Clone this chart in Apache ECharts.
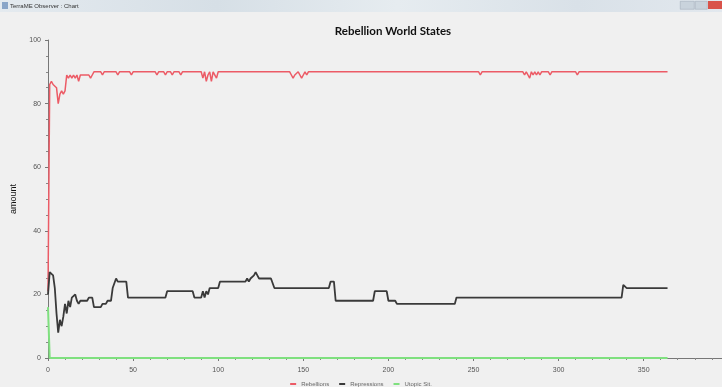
<!DOCTYPE html>
<html>
<head>
<meta charset="utf-8">
<script src="https://cdn.jsdelivr.net/npm/echarts@6/dist/echarts.min.js"></script>
<style>
html,body{margin:0;padding:0;background:#f0f0f0;overflow:hidden;}
#chart{width:722px;height:387px;}
</style>
</head>
<body>
<div id="chart"></div>
<script>
var titleText = "Rebellion World States";
var windowTitle = "TerraME Observer : Chart";
var yAxisName = "amount";
var seriesNames = ["Rebellions", "Repressions", "Utopic Sit."];

// [time, value] change points
var rebellions = [[0,21],[1,86],[2,87],[3,86],[4,86],[5,85],[6,80],[7,83],[8,84],[9,83],[10,84],[11,89],[12,88],[13,89],[14,88],[15,89],[16,88],[17,89],[18,87],[19,89],[24,89],[25,88],[26,89],[27,90],[31,90],[32,89],[33,90],[40,90],[41,89],[42,90],[48,90],[49,89],[50,90],[63,90],[64,89],[65,90],[68,90],[69,89],[70,90],[72,90],[73,89],[74,90],[77,90],[78,89],[79,90],[90,90],[91,88],[92,90],[93,87],[94,89],[95,90],[96,87],[97,90],[98,90],[99,88],[100,90],[142,90],[143,89],[144,88],[145,89],[146,89],[147,90],[148,89],[149,88],[150,89],[151,90],[152,89],[153,90],[253,90],[254,89],[255,90],[279,90],[280,89],[281,90],[282,89],[283,88],[284,90],[285,89],[286,90],[287,89],[288,90],[289,89],[290,90],[294,90],[295,89],[296,90],[310,90],[311,89],[312,90],[364,90]];
var repressions = [[0,20],[1,27],[2,27],[3,26],[4,22],[5,14],[6,8],[7,12],[8,10],[9,13],[10,17],[11,14],[12,18],[13,16],[14,19],[15,19],[16,20],[17,18],[18,17],[19,18],[23,18],[24,19],[26,19],[27,16],[31,16],[32,17],[34,17],[35,18],[37,18],[38,22],[39,22],[40,25],[41,24],[46,24],[47,19],[69,19],[70,21],[85,21],[86,19],[90,19],[91,21],[92,19],[93,21],[94,20],[95,22],[100,22],[101,24],[116,24],[117,25],[118,24],[119,25],[121,26],[122,27],[123,26],[124,25],[131,25],[133,22],[165,22],[166,24],[168,24],[169,18],[191,18],[192,21],[199,21],[200,18],[204,18],[205,17],[239,17],[240,19],[337,19],[338,23],[340,22],[364,22]];
var utopic = [[0,16],[1,0],[364,0]];

var chart = echarts.init(document.getElementById('chart'), null, {renderer:'canvas'});
var tickFont = {fontSize:7, color:'#555', fontFamily:'Liberation Sans'};
chart.setOption({
  backgroundColor:'#f0f0f0',
  animation:false,
  title:{text:titleText, left:388, top:20, textAlign:'center',
    textStyle:{fontSize:11.5, fontWeight:'bold', color:'#111', fontFamily:'Lato'}},
  legend:{top:376, left:'center', itemWidth:6, itemHeight:2, itemGap:10,
    icon:'rect',
    textStyle:{fontSize:6, color:'#666', fontFamily:'Liberation Sans'},
    data:seriesNames},
  grid:{left:48, right:0, top:40, height:318, containLabel:false},
  xAxis:{type:'value', min:0, max:396, interval:50, offset:5,
    axisLine:{lineStyle:{color:'#777', width:1}},
    axisTick:{length:3, lineStyle:{color:'#777'}},
    minorTick:{show:true, splitNumber:5, length:2, lineStyle:{color:'#888'}},
    axisLabel:Object.assign({margin:4, showMaxLabel:false}, tickFont),
    splitLine:{show:false}},
  yAxis:{type:'value', min:0, max:100, interval:20, offset:3,
    name:yAxisName, nameLocation:'middle', nameGap:26,
    nameTextStyle:{fontSize:9, color:'#111', fontFamily:'Liberation Sans'},
    axisLine:{show:true, lineStyle:{color:'#777', width:1}},
    axisTick:{show:true, length:3, lineStyle:{color:'#777'}},
    minorTick:{show:true, splitNumber:4, length:2, lineStyle:{color:'#888'}},
    axisLabel:Object.assign({margin:4}, tickFont),
    splitLine:{show:false}},
  series:[
    {name:seriesNames[0], type:'line', data:rebellions, showSymbol:false,
      itemStyle:{color:'#ec5b66'}, lineStyle:{color:'#ec5b66', width:1.5}},
    {name:seriesNames[1], type:'line', data:repressions, showSymbol:false,
      itemStyle:{color:'#3a3a3a'}, lineStyle:{color:'#3a3a3a', width:1.8}},
    {name:seriesNames[2], type:'line', data:utopic, showSymbol:false,
      itemStyle:{color:'#7fe07f'}, lineStyle:{color:'#7fe07f', width:2}}
  ],
  graphic:[
    {type:'rect', left:0, top:0, shape:{width:722, height:12}, z:100,
      style:{fill:new echarts.graphic.LinearGradient(0,0,1,0,[
        {offset:0,color:'#e4eaef'},{offset:0.3,color:'#d6dfe6'},{offset:0.55,color:'#e6ecf0'},
        {offset:0.8,color:'#d9e1e8'},{offset:1,color:'#e2e8ee'}])}},
    {type:'text', left:10, top:3, z:101,
      style:{text:windowTitle, fontSize:6, fill:'#333', fontFamily:'Liberation Sans'}},
    {type:'rect', left:2, top:2, shape:{width:6, height:7}, z:101, style:{fill:'#8aa6c8'}},
    {type:'rect', left:680, top:1, shape:{width:14, height:8}, z:101, style:{fill:'#c9d3dc', stroke:'#9aa7b3', lineWidth:0.5}},
    {type:'rect', left:695, top:1, shape:{width:12, height:8}, z:101, style:{fill:'#c9d3dc', stroke:'#9aa7b3', lineWidth:0.5}},
    {type:'rect', left:708, top:1, shape:{width:14, height:8}, z:101, style:{fill:'#d9534a'}}
  ]
});
</script>
</body>
</html>
